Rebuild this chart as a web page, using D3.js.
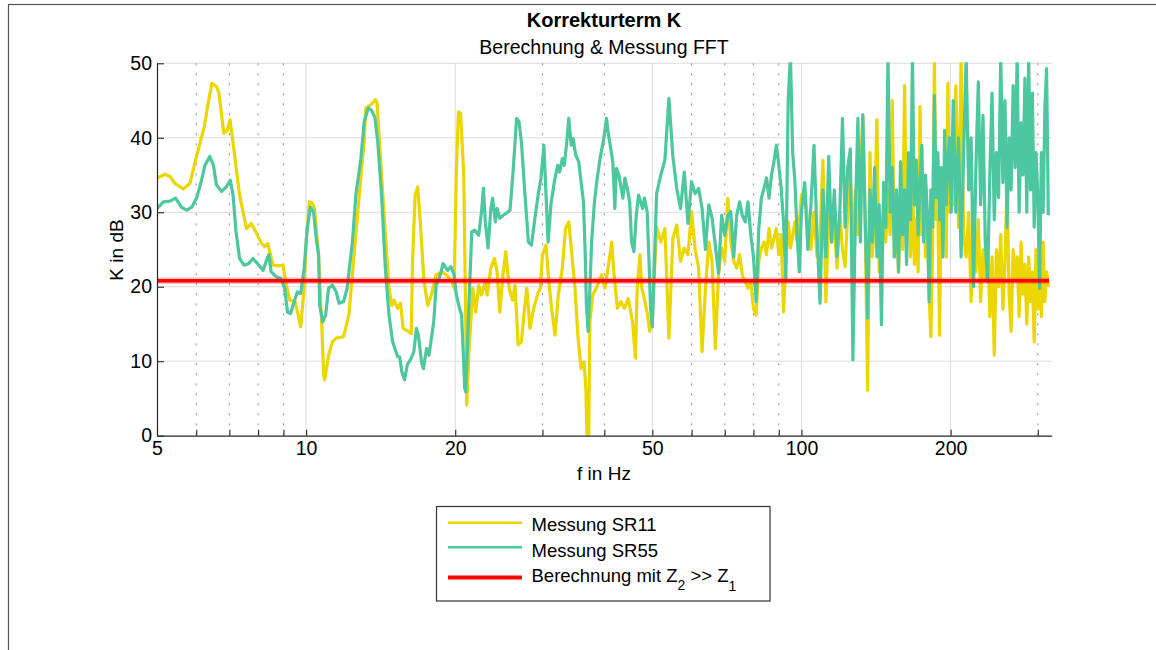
<!DOCTYPE html>
<html>
<head>
<meta charset="utf-8">
<script src="https://cdn.jsdelivr.net/npm/d3@7"></script>
<style>
  body { margin: 0; background: #fff; }
  svg { display: block; }
  text { font-family: "Liberation Sans", Arial, Helvetica, sans-serif; fill: #000; }
</style>
</head>
<body>
<svg id="chart" width="1156" height="650"></svg>
<script>
// ---- Data ---------------------------------------------------------------
// Low-frequency part of each measurement: [f in Hz, K in dB]
const sr11Low = [
  [5.0,34.6],[5.19,35.1],[5.31,34.8],[5.43,33.9],[5.65,33.1],[5.83,33.9],[5.97,36.8],[6.23,41.5],
  [6.32,44.0],[6.45,47.3],[6.59,46.9],[6.67,46.0],[6.82,40.6],[6.93,41.0],[7.02,42.4],[7.13,39.0],
  [7.34,32.3],[7.58,27.8],[7.75,28.5],[7.91,27.4],[8.13,25.8],[8.25,25.4],[8.37,25.8],[8.57,22.9],
  [8.76,22.8],[8.98,22.9],[9.12,20.2],[9.27,18.2],[9.5,18.0],[9.64,16.2],[9.75,14.6],[9.91,19.8],
  [10.0,26.0],[10.15,31.4],[10.3,31.2],[10.4,30.5],[10.59,24.3],[10.75,15.3],[10.85,8.1],[10.9,7.5],
  [11.1,10.8],[11.3,12.6],[11.5,13.1],[11.9,13.3],[12.2,16.2],[12.5,24.3],[12.8,32.3],[13.1,39.5],
  [13.2,44.0],[13.5,44.4],[13.8,45.1],[13.9,44.8],[14.05,39.9],[14.4,28.7],[14.7,19.8],[14.9,17.5],
  [15.05,18.2],[15.3,17.1],[15.5,17.8],[15.7,14.4],[16.1,14.0],[16.3,13.7],[16.4,23.4],[16.6,32.3],
  [16.8,33.4],[17.0,28.7],[17.3,20.7],[17.6,17.5],[17.9,18.9],[18.3,21.6],[18.8,22.0],[19.2,21.6],
  [19.7,20.7],[19.9,19.8],[20.1,35.4],[20.3,43.5],[20.5,43.3],[20.8,35.4],[21.0,15.3],[21.1,4.1],
  [21.3,10.8],[21.7,19.8],[22.0,16.6],[22.3,20.2],[22.6,18.9],[23.0,20.7],[23.2,18.9],[23.6,22.5],
  [24.0,23.8],[24.3,22.0],[24.6,16.6],[25.0,22.0],[25.3,24.7],[25.7,19.8],[26.1,18.2],[26.4,20.2],
  [26.8,12.2],[27.2,12.6],[27.6,17.1],[27.9,19.8],[28.3,14.4],[28.8,17.1],[29.3,18.9],[29.7,19.8],
  [30.0,24.3],[30.5,25.6],[30.9,20.7],[31.3,17.1],[31.8,13.5],[32.3,18.9],[32.9,22.5],[33.4,27.8],
  [33.9,28.7],[34.4,24.3],[34.9,19.8],[35.4,13.1],[35.9,9.0],[36.4,9.9],[36.7,6.4],[36.9,0.0],
  [37.2,0.0],[37.4,15.3],[37.9,18.9],[38.5,19.8],[39.0,20.7],[39.5,21.6],[40.1,19.8],[40.7,22.5],
  [41.4,26.0],[41.8,22.0],[42.5,17.1],[43.2,18.0],[43.9,17.1],[44.7,18.4],[45.6,15.3],[46.2,10.4],
  [46.6,19.8],[47.2,24.3],[47.6,19.8],[48.0,18.9],[48.9,16.2],[49.4,14.0]
];

const sr55Low = [
  [5.0,30.5],[5.15,31.4],[5.31,31.5],[5.45,31.9],[5.6,30.7],[5.74,30.3],[5.88,30.7],[6.01,31.9],
  [6.15,34.3],[6.25,36.3],[6.39,37.5],[6.5,36.3],[6.59,33.7],[6.75,32.8],[6.9,33.4],[7.03,34.3],
  [7.12,32.3],[7.22,27.4],[7.34,23.8],[7.49,22.9],[7.65,23.1],[7.81,23.8],[7.98,23.1],[8.19,22.2],
  [8.3,23.4],[8.41,24.3],[8.5,22.0],[8.72,21.3],[8.9,21.1],[9.05,19.8],[9.17,16.6],[9.3,16.4],
  [9.46,18.0],[9.6,19.3],[9.75,19.1],[9.91,22.5],[10.05,27.8],[10.2,30.7],[10.35,30.1],[10.5,26.0],
  [10.6,24.3],[10.65,17.5],[10.8,15.3],[10.95,16.2],[11.1,19.8],[11.3,20.2],[11.5,19.3],[11.65,17.8],
  [11.9,18.0],[12.1,19.8],[12.4,26.0],[12.6,32.3],[12.9,37.2],[13.1,42.2],[13.35,44.0],[13.55,43.7],
  [13.76,42.8],[13.95,39.5],[14.2,32.3],[14.45,22.5],[14.7,16.2],[14.95,12.6],[15.3,10.6],[15.45,10.6],
  [15.6,8.6],[15.8,7.5],[16.0,9.5],[16.3,10.4],[16.5,11.3],[16.7,14.4],[16.85,13.5],[17.1,9.9],
  [17.25,9.0],[17.5,11.7],[17.7,10.8],[18.1,15.3],[18.3,20.2],[18.6,21.3],[18.9,23.1],[19.3,22.2],
  [19.6,22.7],[19.9,21.6],[20.1,18.9],[20.4,17.1],[20.6,16.2],[20.9,6.4],[21.0,5.9],[21.3,17.1],
  [21.6,27.4],[21.9,27.6],[22.3,26.9],[22.6,30.1],[22.8,33.2],[23.0,28.7],[23.3,25.2],[23.6,30.5],
  [23.8,31.9],[24.1,28.7],[24.3,30.5],[24.6,29.2],[25.0,29.6],[25.4,29.9],[25.8,30.3],[26.2,35.9],
  [26.6,42.6],[26.9,42.2],[27.2,39.5],[27.6,33.2],[28.1,26.0],[28.5,25.6],[28.9,28.7],[29.4,32.3],
  [29.8,34.6],[30.2,39.0],[30.5,32.3],[30.8,26.0],[31.2,31.0],[31.7,34.1],[32.2,36.3],[32.5,35.4],
  [32.9,37.2],[33.2,36.3],[33.6,39.5],[33.9,42.6],[34.3,39.0],[34.6,39.9],[35.0,37.7],[35.5,36.8],
  [35.9,34.1],[36.3,31.4],[36.6,24.3],[36.8,17.5],[37.1,14.0],[37.4,19.8],[37.7,26.0],[38.2,31.4],
  [38.7,34.6],[39.2,37.2],[39.9,39.9],[40.4,42.6],[40.7,40.8],[41.1,39.0],[41.6,36.8],[42.0,30.5],
  [42.3,35.9],[42.8,35.0],[43.6,31.9],[44.0,34.6],[44.5,33.2],[45.0,31.4],[45.4,26.0],[45.9,24.7],
  [46.4,29.6],[46.9,32.3],[47.8,30.5],[48.2,31.9],[48.8,30.1],[49.2,24.0],[49.6,17.0]
];

// FFT bins above 50 Hz (three bands), shared by both measurements
const fftHzA = [
  50,51,52,53,54,55,56,57,58,59,
  60,61,62,63,64,65,66,67,68,69,
  70,71,72,73,74,75,76,77,78,79,
  80,81,82,83,84,85,86,87,88,89,
  90,91,92,93,94,95,96,97,98,99,
  100
];
const sr11A = [
  16.0,28.0,26.0,27.8,13.1,26.5,28.3,23.4,25.2,24.3,
  30.1,25.0,22.5,11.3,19.8,26.0,23.4,11.7,21.6,25.2,
  23.4,31.9,26.0,23.4,22.5,24.3,21.5,20.7,19.8,20.7,
  17.1,16.2,23.4,25.2,26.0,24.3,27.8,25.2,26.5,27.8,
  24.3,27.0,16.6,23.4,28.7,25.2,26.9,28.7,26.0,28.7,
  32.3
];
const sr55A = [
  14.6,32.5,35.0,37.0,45.3,37.5,33.2,30.5,35.4,28.5,
  34.1,32.5,33.2,30.5,25.0,31.0,29.2,25.6,21.8,29.6,
  26.9,29.5,30.1,24.0,29.6,31.4,29.5,28.7,31.4,27.0,
  24.0,18.0,27.8,31.9,33.2,34.6,31.9,35.0,36.8,39.0,
  36.3,33.2,28.7,21.1,45.0,51.0,38.0,34.1,27.0,22.0,
  30.1
];

const fftHzB = [
  101.5,103,104.5,106,107.5,109,110.5,112,113.5,115,
  116.5,118,119.5,121,122.5,124,125.5,127,128.5,130,
  131.5,133,134.5,136,137.5,139,140.5,142,143.5,145,
  146.5,148,149.5,151,152.5,154,155.5,157,158.5,160,
  161.5,163,164.5,166,167.5,169,170.5,172,173.5,175,
  176.5,178,179.5,181,182.5,184,185.5,187,188.5,190,
  191.5,193,194.5,196,197.5,199,200.5
];
const sr11B = [
  33,28,25,30,24,27,37,18,30,26,
  28,22.5,30,25,22.7,30,35,26,33,27,
  35,43,28,6.1,38,24,30,42.4,22,28,
  30,26,33,27,45,24,29,22,32,25,
  47,27,31,24,35,23,29,22,44.2,27,
  32,24,28,19,13.3,26,50.5,29,30,13.5,
  33,27,31,24,47.3,30,35
];
const sr55B = [
  34,25,31,39,27,17.8,33,24,37.5,26,
  33,24,30,42.6,28,36,38.5,10.2,30,42.6,
  26,43.1,29,15.8,33,26,36,24,31,14.9,
  34,28,51,30,36,24,33,22,36.8,27,
  33,23,38,29,51,31,37,27,34,39,
  26,35,30,18,33,28,45.7,32,38,29,
  36,24,41,31,37,40,30
];

const fftHzC = [
  202.5,205,207.5,210,212.5,215,217.5,220,222.5,225,
  227.5,230,232.5,235,237.5,240,242.5,245,247.5,250,
  252.5,255,257.5,260,262.5,265,267.5,270,272.5,275,
  277.5,280,282.5,285,287.5,290,292.5,295,297.5,300,
  302.5,305,307.5,310,312.5,315
];
const sr11C = [
  31,47,28,50.5,27,24,30,18,27,22,
  29,18,25,21,27,16,24,10.8,25,20,
  27,17,23,34,19,14,25,21,24,16,
  26,19,23,15,24,18,22,12.6,25,17,
  22,16,26,18,22,20
];
const sr55C = [
  45,30,40,24,38,51,33,40,20,36,
  47.5,31,43,26,20.7,35,46,29,38,32,
  51,34,45,28,40,33,47,36,51,30,
  42,35,48,30,51,33,46,28,38,32,
  19.8,38,30,44,49.3,29.6
];

// Calculated correction term (Z2 >> Z1)
const calcK = 20.8;
const calcRange = [5, 316];

// Axis ticks
const xTicksMajor = [5, 10, 20, 50, 100, 200];
const xTicksMinor = [6, 7, 8, 9, 30, 40, 60, 70, 80, 90, 300];
const yTicks = [0, 10, 20, 30, 40, 50];

const legendLabels = ["Messung SR11", "Messung SR55"];

// ---- Assemble series ----------------------------------------------------
function zip(fs, vs) { return fs.map((f, i) => [f, vs[i]]); }
const sr11 = sr11Low.concat(zip(fftHzA, sr11A), zip(fftHzB, sr11B), zip(fftHzC, sr11C));
const sr55 = sr55Low.concat(zip(fftHzA, sr55A), zip(fftHzB, sr55B), zip(fftHzC, sr55C));

// ---- Layout -------------------------------------------------------------
const colors = { sr11: "#ecd600", sr55: "#4cc79f", calc: "#ff0000", axis: "#262626" };
const P = { left: 157, right: 1051.7, top: 63.3, bottom: 435.7 };

const svg = d3.select("#chart");

const x = d3.scaleLog().domain([5, 320]).range([P.left, P.right]);
const y = d3.scaleLinear().domain([0, 50]).range([P.bottom, P.top]);

// outer figure frame (top and left edges visible)
svg.append("rect")
  .attr("x", 8.5).attr("y", 4.5).attr("width", 1200).attr("height", 700)
  .attr("fill", "none").attr("stroke", "#555").attr("stroke-width", 1.2);

// titles
svg.append("text").attr("x", 604).attr("y", 27).attr("text-anchor", "middle")
  .style("font-size", "20px").style("font-weight", "bold").text("Korrekturterm K");
svg.append("text").attr("x", 604).attr("y", 54).attr("text-anchor", "middle")
  .style("font-size", "19.5px").text("Berechnung & Messung FFT");

// grid
const grid = svg.append("g");
grid.selectAll(".gy").data(yTicks.filter(v => v > 0)).join("line")
  .attr("x1", P.left).attr("x2", P.right)
  .attr("y1", d => y(d)).attr("y2", d => y(d))
  .attr("stroke", "#dcdcdc").attr("stroke-width", 1);
grid.selectAll(".gx").data(xTicksMajor.filter(v => v > 5)).join("line")
  .attr("x1", d => x(d)).attr("x2", d => x(d))
  .attr("y1", P.top).attr("y2", P.bottom)
  .attr("stroke", "#dcdcdc").attr("stroke-width", 1);
grid.selectAll(".gm").data(xTicksMinor).join("line")
  .attr("x1", d => x(d)).attr("x2", d => x(d))
  .attr("y1", P.top).attr("y2", P.bottom)
  .attr("stroke", "#8a8a8a").attr("stroke-width", 1)
  .attr("stroke-dasharray", "2,8");

// clip to axes box
svg.append("clipPath").attr("id", "plotClip").append("rect")
  .attr("x", P.left).attr("y", P.top - 1)
  .attr("width", P.right - P.left).attr("height", P.bottom - P.top + 1);

const line = d3.line().x(d => x(d[0])).y(d => y(d[1]));
const plot = svg.append("g").attr("clip-path", "url(#plotClip)");

plot.append("path").datum(sr11).attr("d", line)
  .attr("fill", "none").attr("stroke", colors.sr11).attr("stroke-width", 3.2)
  .attr("stroke-linejoin", "round");
plot.append("path").datum(sr55).attr("d", line)
  .attr("fill", "none").attr("stroke", colors.sr55).attr("stroke-width", 3.2)
  .attr("stroke-linejoin", "round");

const calcLine = calcRange.map(f => [f, calcK]);
plot.append("path").datum(calcLine).attr("d", line)
  .attr("fill", "none").attr("stroke", colors.calc).attr("stroke-opacity", 0.25)
  .attr("stroke-width", 6.5);
plot.append("path").datum(calcLine).attr("d", line)
  .attr("fill", "none").attr("stroke", colors.calc).attr("stroke-width", 3.6);

// axes
const xAxis = d3.axisBottom(x)
  .tickValues(xTicksMajor.concat(xTicksMinor))
  .tickFormat(d => xTicksMajor.includes(d) ? String(d) : "")
  .tickSizeInner(-6).tickSizeOuter(0).tickPadding(5);
const gx = svg.append("g").attr("transform", `translate(0,${P.bottom})`).call(xAxis);

const yAxis = d3.axisLeft(y).tickValues(yTicks)
  .tickSizeInner(-7).tickSizeOuter(0).tickPadding(5);
const gy = svg.append("g").attr("transform", `translate(${P.left},0)`).call(yAxis);

[gx, gy].forEach(g => {
  g.select(".domain").attr("stroke", colors.axis).attr("stroke-width", 1.2);
  g.selectAll(".tick line").attr("stroke", colors.axis).attr("stroke-width", 1.1);
  g.selectAll(".tick text").attr("fill", "#262626")
    .style("font-family", '"Liberation Sans", Arial, sans-serif').style("font-size", "19.5px");
});

// axis labels
svg.append("text").attr("x", 604).attr("y", 480).attr("text-anchor", "middle")
  .style("font-size", "19px").text("f in Hz");
svg.append("text").attr("transform", "translate(123,250) rotate(-90)")
  .attr("text-anchor", "middle").style("font-size", "19px").text("K in dB");

// legend
const lg = svg.append("g");
lg.append("rect").attr("x", 436.5).attr("y", 506.5).attr("width", 333.5).attr("height", 94.5)
  .attr("fill", "#fff").attr("stroke", "#333").attr("stroke-width", 1.2);

const legendRows = [
  { color: colors.sr11, w: 2.6, ly: 522.7, ty: 531, label: legendLabels[0] },
  { color: colors.sr55, w: 2.6, ly: 547.3, ty: 556.5, label: legendLabels[1] }
];
legendRows.forEach(r => {
  lg.append("line").attr("x1", 448).attr("x2", 522).attr("y1", r.ly).attr("y2", r.ly)
    .attr("stroke", r.color).attr("stroke-width", r.w);
  lg.append("text").attr("x", 531.5).attr("y", r.ty).style("font-size", "18.5px").text(r.label);
});
lg.append("line").attr("x1", 448).attr("x2", 522).attr("y1", 577.5).attr("y2", 577.5)
  .attr("stroke", colors.calc).attr("stroke-width", 4);
const t3 = lg.append("text").attr("x", 531.5).attr("y", 582).style("font-size", "18.5px");
t3.append("tspan").text("Berechnung mit Z");
t3.append("tspan").attr("dy", 8).style("font-size", "14px").text("2");
t3.append("tspan").attr("dy", -8).text(" >> Z");
t3.append("tspan").attr("dy", 9).style("font-size", "14px").text("1");
</script>
</body>
</html>
